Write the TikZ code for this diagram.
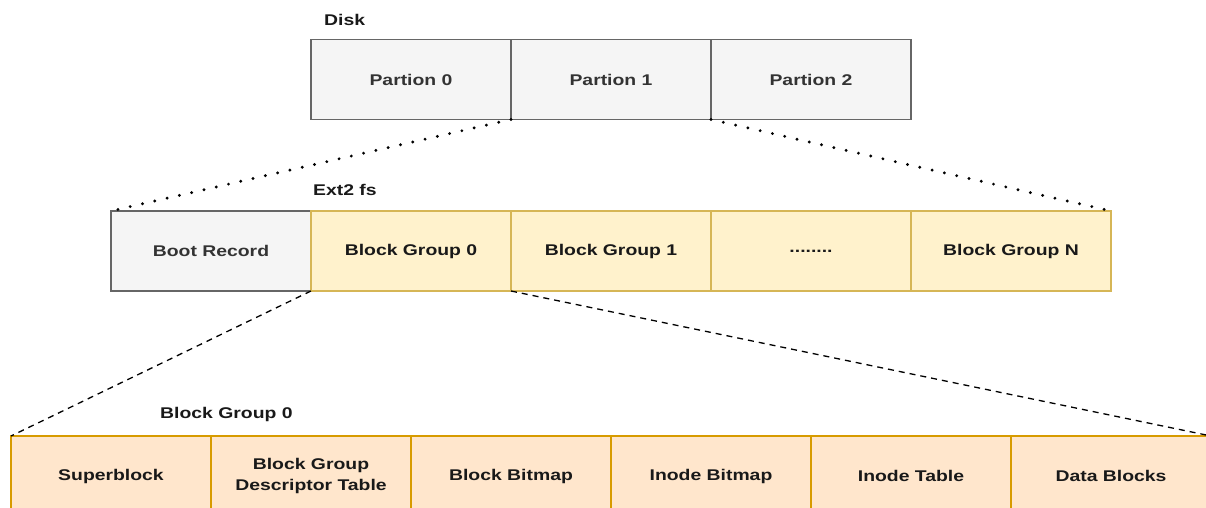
\documentclass[tikz,border=0pt]{standalone}
\usepackage{fontspec}
\setmainfont{Liberation Sans}[FakeStretch=1.25]
\usetikzlibrary{positioning}
\definecolor{grayfill}{HTML}{F5F5F5}
\definecolor{grayline}{HTML}{666666}
\definecolor{graytext}{HTML}{333333}
\definecolor{yellowfill}{HTML}{FFF2CC}
\definecolor{yellowline}{HTML}{D6B656}
\definecolor{orangefill}{HTML}{FFE6CC}
\definecolor{orangeline}{HTML}{D79B00}
\tikzset{
  cell/.style={draw,line width=1.2pt,minimum width=200pt,minimum height=80pt,
    inner sep=0pt,outer sep=0pt,align=center,
    font=\fontsize{15.5}{21}\selectfont\bfseries},
  graycell/.style={cell,fill=grayfill,draw=grayline,text=graytext},
  yellowcell/.style={cell,fill=yellowfill,draw=yellowline,text=black!90},
  orangecell/.style={cell,fill=orangefill,draw=orangeline,text=black!90},
  rowtitle/.style={anchor=west,inner sep=0pt,text=black!90,
    font=\fontsize{15.5}{18.5}\selectfont\bfseries},
  dotline/.style={line width=3.2pt,line cap=round,dash pattern=on 0pt off 12.6pt},
  dashline/.style={line width=1.3pt,dash pattern=on 6pt off 5pt}
}

\begin{document}
\begin{tikzpicture}[x=1pt,y=-1pt]
  \useasboundingbox (0,0) rectangle (1206,508);
  \clip (0,0) rectangle (1206,508);
  % disk with three partitions
  \node[rowtitle] (disk) at (324,20) {Disk};
  \node[graycell] (p0) at (411,79.5) {Partion 0};
  \node[graycell,right=0pt of p0] (p1) {Partion 1};
  \node[graycell,right=0pt of p1] (p2) {Partion 2};
  % ext2 layout of one partition
  \node[rowtitle] (ext) at (313,190) {Ext2 fs};
  \node[graycell] (br) at (211,251) {Boot Record};
  \node[yellowcell,right=0pt of br] (bg0) {Block Group 0};
  \node[yellowcell,right=0pt of bg0] (bg1) {Block Group 1};
  \node[yellowcell,right=0pt of bg1] (bgdots) {........};
  \node[yellowcell,right=0pt of bgdots] (bgn) {Block Group N};
  % inside one block group
  \node[rowtitle] (grp) at (160,414) {Block Group 0};
  \node[orangecell] (sb) at (111,476) {Superblock};
  \node[orangecell,right=0pt of sb] (gdt) {Block Group\\Descriptor Table};
  \node[orangecell,right=0pt of gdt] (bbm) {Block Bitmap};
  \node[orangecell,right=0pt of bbm] (ibm) {Inode Bitmap};
  \node[orangecell,right=0pt of ibm] (itab) {Inode Table};
  \node[orangecell,right=0pt of itab] (data) {Data Blocks};
  % zoom lines
  \draw[dotline] (p1.south west) -- (br.north west);
  \draw[dotline] (p2.south west) -- (bgn.north east);
  \draw[dashline] (bg0.south west) -- (sb.north west);
  \draw[dashline] (bg1.south west) -- (data.north east);
\end{tikzpicture}
\end{document}
